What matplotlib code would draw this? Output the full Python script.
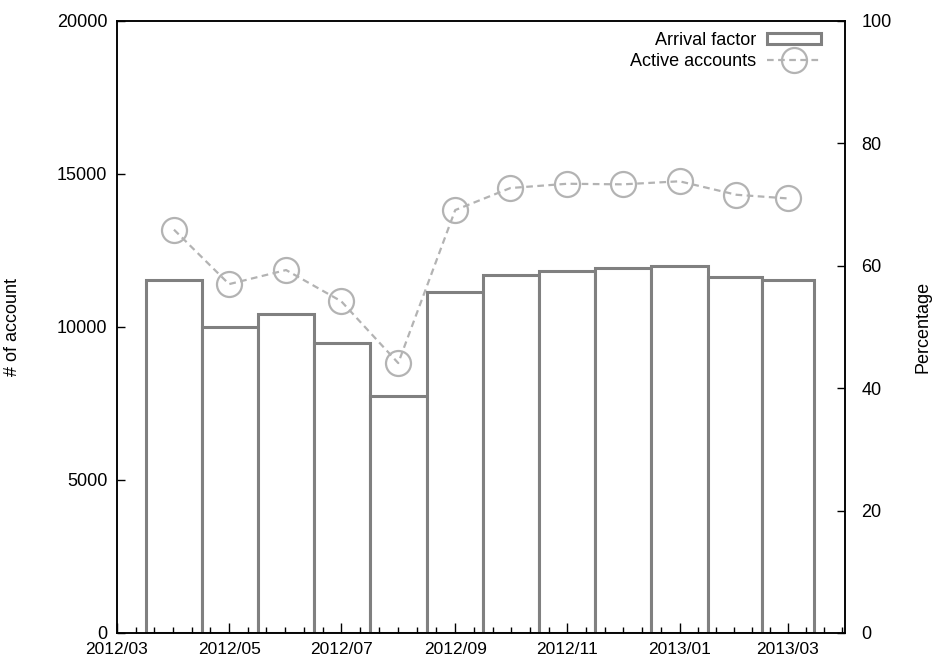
import numpy as np
import matplotlib.pyplot as plt
import matplotlib.dates as mdates
from matplotlib.patches import Rectangle
from matplotlib.lines import Line2D
from matplotlib.ticker import FixedLocator

plt.rcParams['font.family'] = ['Liberation Sans', 'DejaVu Sans']

# Monthly values, one per month start 2012/04 .. 2013/03
months = ['2012-04-01', '2012-05-01', '2012-06-01', '2012-07-01', '2012-08-01', '2012-09-01',
          '2012-10-01', '2012-11-01', '2012-12-01', '2013-01-01', '2013-02-01', '2013-03-01']
accounts = [11540, 9990, 10410, 9490, 7740, 11140, 11690, 11820, 11930, 11990, 11630, 11550]
active_pct = [65.9, 57.0, 59.3, 54.2, 44.1, 69.1, 72.7, 73.4, 73.3, 73.8, 71.6, 71.0]
tick_dates = ['2012-03-01', '2012-05-01', '2012-07-01', '2012-09-01',
              '2012-11-01', '2013-01-01', '2013-03-01']
x_range = ['2012-03-01', '2013-04-01']

bar_color = '#808080'
line_color = '#b3b3b3'
FS = 13

x = mdates.datestr2num(months)
# boxes touch each other: edges halfway between neighbouring months
mid = (x[:-1] + x[1:]) / 2
left_edges = np.concatenate([[x[0] - (mid[0] - x[0])], mid])
right_edges = np.concatenate([mid, [x[-1] + (x[-1] - mid[-1])]])
widths = right_edges - left_edges
centers = (left_edges + right_edges) / 2

fig = plt.figure(figsize=(9.32, 6.59), dpi=100)
ax = fig.add_axes([0.1255, 0.0395, 0.7811, 0.9287])
ax2 = ax.twinx()
ax.set_axisbelow(False)  # keep the inward tics visible over the boxes

ax.bar(centers, accounts, width=widths, facecolor='white', edgecolor=bar_color,
       linewidth=2.2, zorder=2)
ax2.plot(x, active_pct, linestyle=(0, (3, 2)), color=line_color, linewidth=1.6,
         marker='o', markersize=18, markerfacecolor='none', markeredgecolor=line_color,
         markeredgewidth=1.6, zorder=3)

xr = mdates.datestr2num(x_range)
ax.set_xlim(xr[0], xr[1])
ax.set_ylim(0, 20000)
ax2.set_ylim(0, 100)

majors = mdates.datestr2num(tick_dates)
ax.set_xticks(majors)
ax.set_xticklabels([d[:7].replace('-', '/') for d in tick_dates])
minors = []
for a, b in zip(majors[:-1], majors[1:]):
    minors.extend(np.linspace(a, b, 7)[1:-1])
step = (majors[-1] - majors[-2]) / 6
m = majors[-1] + step
while m < xr[1]:
    minors.append(m)
    m += step
ax.xaxis.set_minor_locator(FixedLocator(minors))

ax.set_yticks(np.arange(0, 20001, 5000))
ax2.set_yticks(np.arange(0, 101, 20))

ax.tick_params(axis='x', which='major', direction='in', length=7, width=1,
               labelsize=12.5, pad=6.5, top=False)
ax.tick_params(axis='x', which='minor', direction='in', length=4, width=1, top=False)
ax.tick_params(axis='y', direction='in', length=5.5, width=1, labelsize=FS, pad=7, right=False)
ax2.tick_params(axis='y', direction='in', length=5.5, width=1, labelsize=FS, pad=12, left=False)
for a in (ax, ax2):
    for s in a.spines.values():
        s.set_linewidth(1.1)

ax.set_ylabel('# of account', fontsize=FS, labelpad=26)
ax2.set_ylabel('Percentage', fontsize=FS, labelpad=16)

# legend: text on the left, sample on the right
handles = [Rectangle((0, 0), 1, 1, facecolor='white', edgecolor=bar_color, linewidth=2.2),
           Line2D([], [], linestyle=(0, (3, 2)), color=line_color, linewidth=1.6, marker='o',
                  markersize=18, markerfacecolor='none', markeredgecolor=line_color,
                  markeredgewidth=1.6)]
ax2.legend(handles, ['Arrival factor', 'Active accounts'], loc='upper right',
           bbox_to_anchor=(0.977, 0.994), borderaxespad=0, frameon=False, markerfirst=False,
           fontsize=FS, handlelength=3.0, handleheight=0.55, labelspacing=0.25,
           handletextpad=0.6)

fig.savefig('out.png', dpi=100)
